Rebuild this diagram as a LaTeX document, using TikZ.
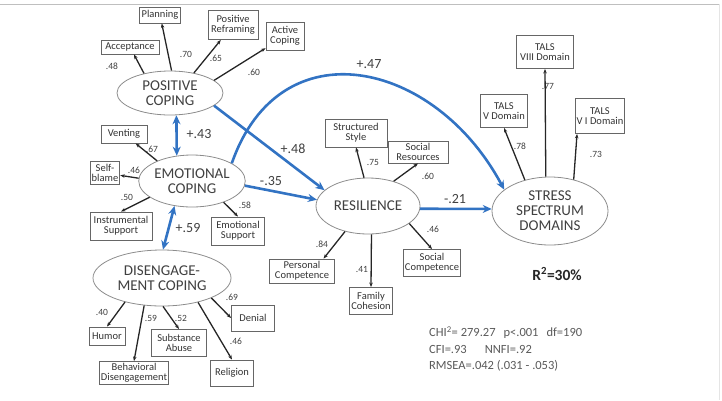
\documentclass[tikz,border=0pt]{standalone}
\usepackage{fontspec}
\setmainfont{Carlito}
\usepackage{tikz}
\usetikzlibrary{shapes.geometric}
\usetikzlibrary{arrows.meta}
\definecolor{pathblue}{RGB}{50,115,195}
\definecolor{txtgray}{RGB}{64,64,64}
\tikzset{latent/.style={ellipse, draw=black!45, line width=0.8pt, inner sep=0pt, align=center, text=txtgray, font=\fontsize{15}{15}\selectfont}}
\tikzset{indbox/.style={rectangle, draw=black!60, line width=0.9pt, inner xsep=1.5pt, inner ysep=1pt, align=center, text=black!80, font=\fontsize{10.5}{10}\selectfont}}
\tikzset{sz/.style 2 args={minimum width=#1pt, minimum height=#2pt}}
\tikzset{load/.style={text=black!75, inner sep=0pt, font=\fontsize{9.5}{10}\selectfont}}
\tikzset{coef/.style={text=txtgray, inner sep=0pt, font=\fontsize{14}{14}\selectfont}}
\tikzset{ind/.style={-{Stealth[length=4.5pt,width=3.5pt]}, line width=1.3pt, black!85}}
\tikzset{struct/.style={-{Stealth[length=9pt,width=8pt]}, line width=2.6pt, pathblue}}
\tikzset{corr/.style={{Stealth[length=9pt,width=8pt]}-{Stealth[length=9pt,width=8pt]}, line width=2.6pt, pathblue}}

\begin{document}
\begin{tikzpicture}[x=1pt,y=-1pt]
    \useasboundingbox (0,0) rectangle (722,400);
    \draw[black!25, line width=0.8pt] (0,4) -- (719,4);
    \draw[black!10, line width=0.8pt] (719,4) -- (719,400);

    % latent variables
    \node [latent, minimum width=106pt, minimum height=44pt](PC) at (170,93){POSITIVE\\COPING};
    \node [latent, minimum width=102pt, minimum height=52pt](EC) at (192,181){EMOTIONAL\\COPING};
    \node [latent, minimum width=138pt, minimum height=56pt](DC) at (162,278){DISENGAGE-\\MENT COPING};
    \node [latent, minimum width=104pt, minimum height=56pt](RS) at (368,206){RESILIENCE};
    \node [latent, minimum width=116pt, minimum height=68pt](SS) at (550,211){STRESS\\SPECTRUM\\DOMAINS};

    % positive coping
    \node [indbox, sz={58}{14}](acc) at (130,47){Acceptance};
    \node [indbox, sz={41}{16}](pln) at (160,15){Planning};
    \node [indbox, sz={50}{29}](prf) at (233,25){Positive\\Reframing};
    \node [indbox, sz={38}{28}](act) at (285,36){Active\\Coping};
    \node [load](l1) at (112,66){.48};
    \node [load](l2) at (186,54){.70};
    \node [load](l3) at (216,58){.65};
    \node [load](l4) at (254,72){.60};

    % emotional coping
    \node [indbox, sz={46}{18}](ven) at (124,134){Venting};
    \node [indbox, sz={29}{23}](sfb) at (105,173){Self-\\blame};
    \node [indbox, sz={62}{28}](ins) at (121,226){Instrumental\\Support};
    \node [indbox, sz={53}{28}](ems) at (238,231){Emotional\\Support};
    \node [load](l5) at (152,149){.67};
    \node [load](l6) at (134,170){.46};
    \node [load](l7) at (127,197){.50};
    \node [load](l8) at (245,205){.58};

    % disengagement coping
    \node [indbox, sz={36}{18}](hum) at (107,336){Humor};
    \node [indbox, sz={68}{23}](bhv) at (134,373){Behavioral\\Disengagement};
    \node [indbox, sz={55}{27}](sub) at (179,343){Substance\\Abuse};
    \node [indbox, sz={43}{26}](rel) at (232,373){Religion};
    \node [indbox, sz={43}{26}](den) at (253,318){Denial};
    \node [load](l9) at (102,312){.40};
    \node [load](l10) at (151,318){.59};
    \node [load](l11) at (181,318){.52};
    \node [load](l12) at (232,297){.69};
    \node [load](l13) at (236,341){.46};

    % resilience
    \node [indbox, sz={62}{28}](sty) at (356,133){Structured\\Style};
    \node [indbox, sz={60}{22}](srs) at (418,152){Social\\Resources};
    \node [indbox, sz={57}{27}](scp) at (432,263){Social\\Competence};
    \node [indbox, sz={65}{24}](pcp) at (302,271){Personal\\Competence};
    \node [indbox, sz={41}{27}](fam) at (371,301){Family\\Cohesion};
    \node [load](l14) at (373,162){.75};
    \node [load](l15) at (428,176){.60};
    \node [load](l16) at (433,229){.46};
    \node [load](l17) at (322,244){.84};
    \node [load](l18) at (362,269){.41};

    % stress spectrum
    \node [indbox, sz={57}{33}](t8) at (545,52){TALS\\VIII Domain};
    \node [indbox, sz={47}{33}](t5) at (504,111){TALS\\V Domain};
    \node [indbox, sz={49}{35}](t6) at (600,116){TALS\\V I Domain};
    \node [load](l19) at (548,86){.77};
    \node [load](l20) at (520,146){.78};
    \node [load](l21) at (596,154){.73};

    % path coefficients
    \node [coef](c1) at (199,134){+.43};
    \node [coef](c2) at (188,228){+.59};
    \node [coef](c3) at (293,149){+.48};
    \node [coef](c4) at (271,181){-.35};
    \node [coef](c5) at (369,64){+.47};
    \node [coef](c6) at (455,199){-.21};

    \node [text=black!85, font=\bfseries\fontsize{15.5}{15.5}\selectfont](rsq) at (557,274){R\textsuperscript{2}=30\%};
    \node [anchor=west, align=left, text=black!65, inner sep=0pt, font=\fontsize{12.5}{16.5}\selectfont](fit) at (429,349){CHI\textsuperscript{2}= 279.27\hspace{8pt}p<.001\hspace{8pt}df=190\\CFI=.93\hspace{18pt}NNFI=.92\\RMSEA=.042 (.031 - .053)};

    \draw[ind] (PC.143) -- (acc);
    \draw[ind] (PC.86) -- (pln);
    \draw[ind] (PC.40) -- (prf);
    \draw[ind] (PC.16) -- (act);
    \draw[ind] (EC.150) -- (ven);
    \draw[ind] (EC.177) -- (sfb);
    \draw[ind] (EC.201) -- (ins.north);
    \draw[ind] (EC.326) -- (ems.north);
    \draw[ind] (DC.213) -- (hum.north);
    \draw[ind] (DC.237) -- (bhv.north);
    \draw[ind] (DC.272) -- (sub.north);
    \draw[ind] (DC.326) -- (rel.north);
    \draw[ind] (DC.338) -- (den.west);
    \draw[ind] (RS.98) -- (sty.south);
    \draw[ind] (RS.44) -- (srs.south);
    \draw[ind] (RS.337) -- (scp.north);
    \draw[ind] (RS.228) -- (pcp.30);
    \draw[ind] (RS.277) -- (fam.north);
    \draw[ind] (SS.97) -- (t8.south);
    \draw[ind] (SS.129) -- (t5.south);
    \draw[ind] (SS.53) -- (t6.218);

    \draw[corr] (PC.286) -- (EC.121);
    \draw[corr] (EC.235) -- (DC.88);
    \draw[struct] (PC.344) -- (RS.160);
    \draw[struct] (EC.355) -- (RS.173);
    \draw[struct] (RS.357) -- (SS.178);
    \draw[struct] (EC.24) .. controls (280,25) and (435,60) .. (SS.155);
\end{tikzpicture}
\end{document}
